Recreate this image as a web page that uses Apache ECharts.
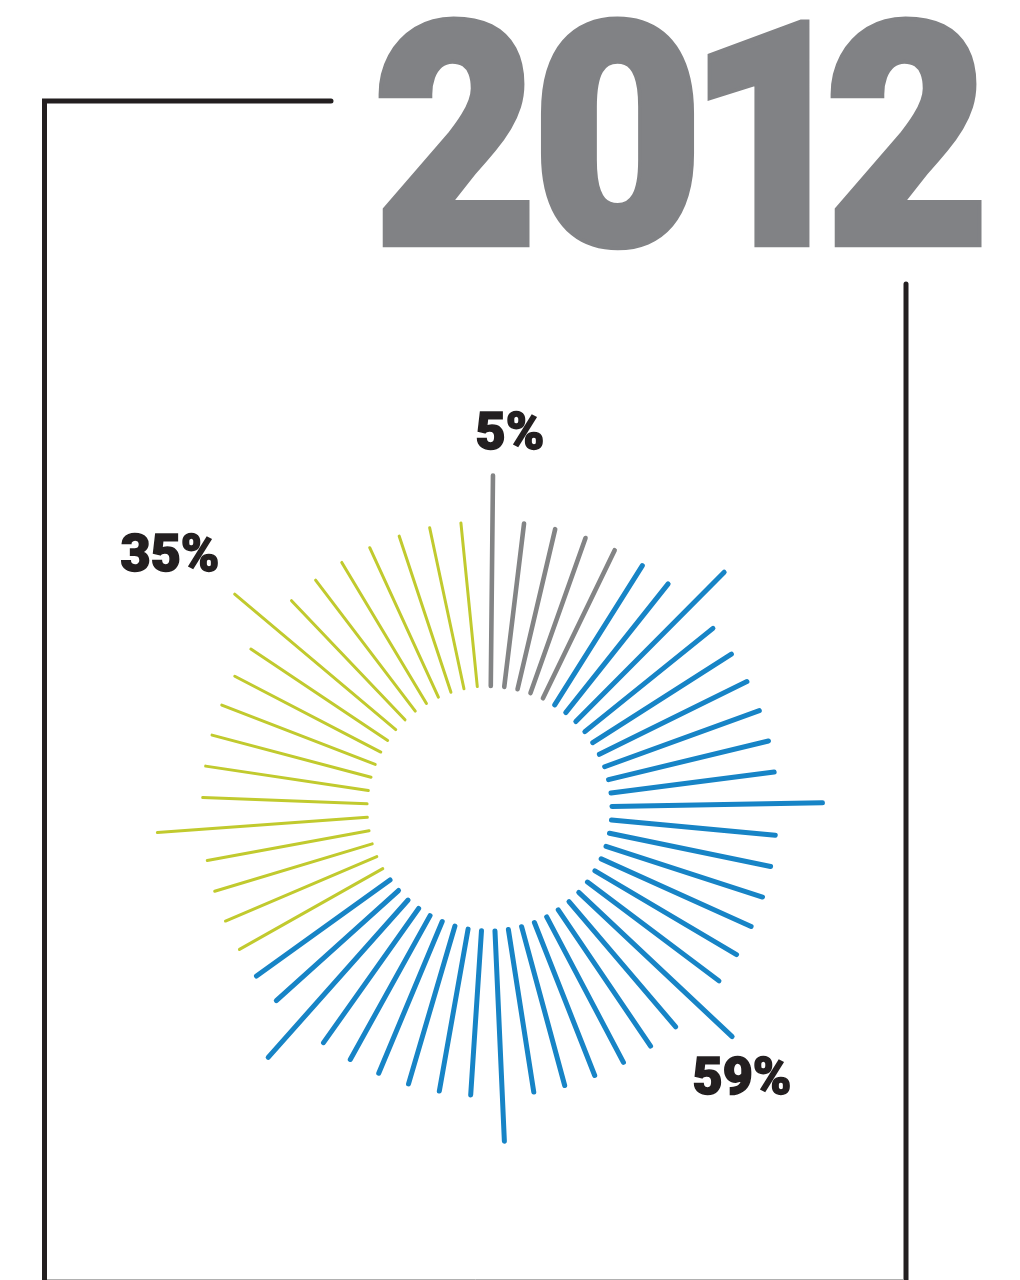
<!DOCTYPE html>
<html>
<head>
<meta charset="utf-8">
<script src="https://cdn.jsdelivr.net/npm/echarts@6/dist/echarts.min.js"></script>
<style>
  html, body { margin: 0; padding: 0; background: #ffffff; }
  #chart { width: 1020px; height: 1280px; }
</style>
</head>
<body>
<div id="chart"></div>
<script>
// Outer reach of every ray, clockwise from the top (same units as the radius axis)
const grayLengths = [333, 287, 287, 287, 287];
const blueLengths = [287, 287, 333, 287, 287, 287, 287, 287, 287, 333, 287, 287, 287, 287, 287, 287, 333,
                     287, 287, 287, 287, 287, 287, 333, 287, 287, 287, 287, 287, 287, 333, 287, 287];
const greenLengths = [287, 287, 287, 287, 333, 287, 287, 287, 287, 287, 287, 333, 287, 287, 287, 287, 287, 287, 287];
const groupNames = ['gray', 'blue', 'green'];
const shareLabels = ['5%', '59%', '35%'];
const yearLabel = '2012';

const groups = [grayLengths, blueLengths, greenLengths];
const colors = ['#838485', '#1784c6', '#c1ca2e'];
const widths = [4.6, 5, 3];
const INNER_R = 122.5;

const categories = [];
const seriesData = groups.map(() => []);
let k = 0;
groups.forEach((arr, gi) => {
  arr.forEach(len => {
    categories.push('r' + k);
    seriesData[gi].push([len, k]);
    k++;
  });
});

const chart = echarts.init(document.getElementById('chart'), null, { renderer: 'canvas' });

const series = groups.map((arr, gi) => ({
  type: 'custom',
  name: groupNames[gi],
  coordinateSystem: 'polar',
  encode: { radius: 0, angle: 1 },
  data: seriesData[gi],
  renderItem: function (params, api) {
    const a = api.value(1);
    const p0 = api.coord([INNER_R, a]);
    const p1 = api.coord([api.value(0), a]);
    return {
      type: 'line',
      shape: { x1: p0[0], y1: p0[1], x2: p1[0], y2: p1[1] },
      style: { stroke: colors[gi], lineWidth: widths[gi], lineCap: 'round' }
    };
  }
}));

const frameColor = '#231f20';
const yearColor = '#818285';
const yearFs = 309;
const digitSpec = [
  { ch: yearLabel[0], cx: 455.5, sx: 0.91 },
  { ch: yearLabel[1], cx: 617.5, sx: 0.95 },
  { ch: yearLabel[2], cx: 771.5, sx: 0.935 },
  { ch: yearLabel[3], cx: 907.5, sx: 0.91 }
];
const graphics = [
  {
    type: 'polyline',
    shape: { points: [[331, 101], [44.5, 101], [44.5, 1290]] },
    style: { stroke: frameColor, lineWidth: 5, lineCap: 'round', lineJoin: 'miter', fill: null }
  },
  {
    type: 'line',
    shape: { x1: 906, y1: 284, x2: 906, y2: 1290 },
    style: { stroke: frameColor, lineWidth: 5, lineCap: 'round' }
  },
  {
    type: 'line',
    shape: { x1: 47, y1: 1279.5, x2: 903.5, y2: 1279.5 },
    style: { stroke: '#b0b0b0', lineWidth: 1 }
  }
];
digitSpec.forEach(d => {
  graphics.push({
    type: 'text',
    x: d.cx, y: 166,
    scaleX: d.sx, scaleY: 1,
    style: {
      text: d.ch,
      fontFamily: 'Roboto',
      fontWeight: 900,
      fontSize: yearFs,
      fill: yearColor,
      stroke: yearColor,
      lineWidth: 8,
      lineJoin: 'round',
      textAlign: 'center',
      textVerticalAlign: 'middle'
    }
  });
});
const labelPos = [[510, 436], [742, 1081], [170, 558]];
shareLabels.forEach((t, i) => {
  graphics.push({
    type: 'text',
    x: labelPos[i][0], y: labelPos[i][1],
    scaleX: 1.0, scaleY: 1,
    style: {
      text: t,
      fontFamily: 'Roboto',
      fontWeight: 900,
      fontSize: 52,
      fill: frameColor,
      stroke: frameColor,
      lineWidth: 1.5,
      lineJoin: 'round',
      textAlign: 'center',
      textVerticalAlign: 'middle'
    }
  });
});

chart.setOption({
  animation: false,
  backgroundColor: '#ffffff',
  polar: { center: [489.5, 808.5], radius: 340 },
  radiusAxis: {
    type: 'value', min: 0, max: 340,
    axisLine: { show: false }, axisTick: { show: false }, axisLabel: { show: false }, splitLine: { show: false }
  },
  angleAxis: {
    type: 'category', data: categories, startAngle: 92.56, clockwise: true, boundaryGap: true,
    axisLine: { show: false }, axisTick: { show: false }, axisLabel: { show: false }, splitLine: { show: false }
  },
  series: series,
  graphic: graphics
});
</script>
</body>
</html>
